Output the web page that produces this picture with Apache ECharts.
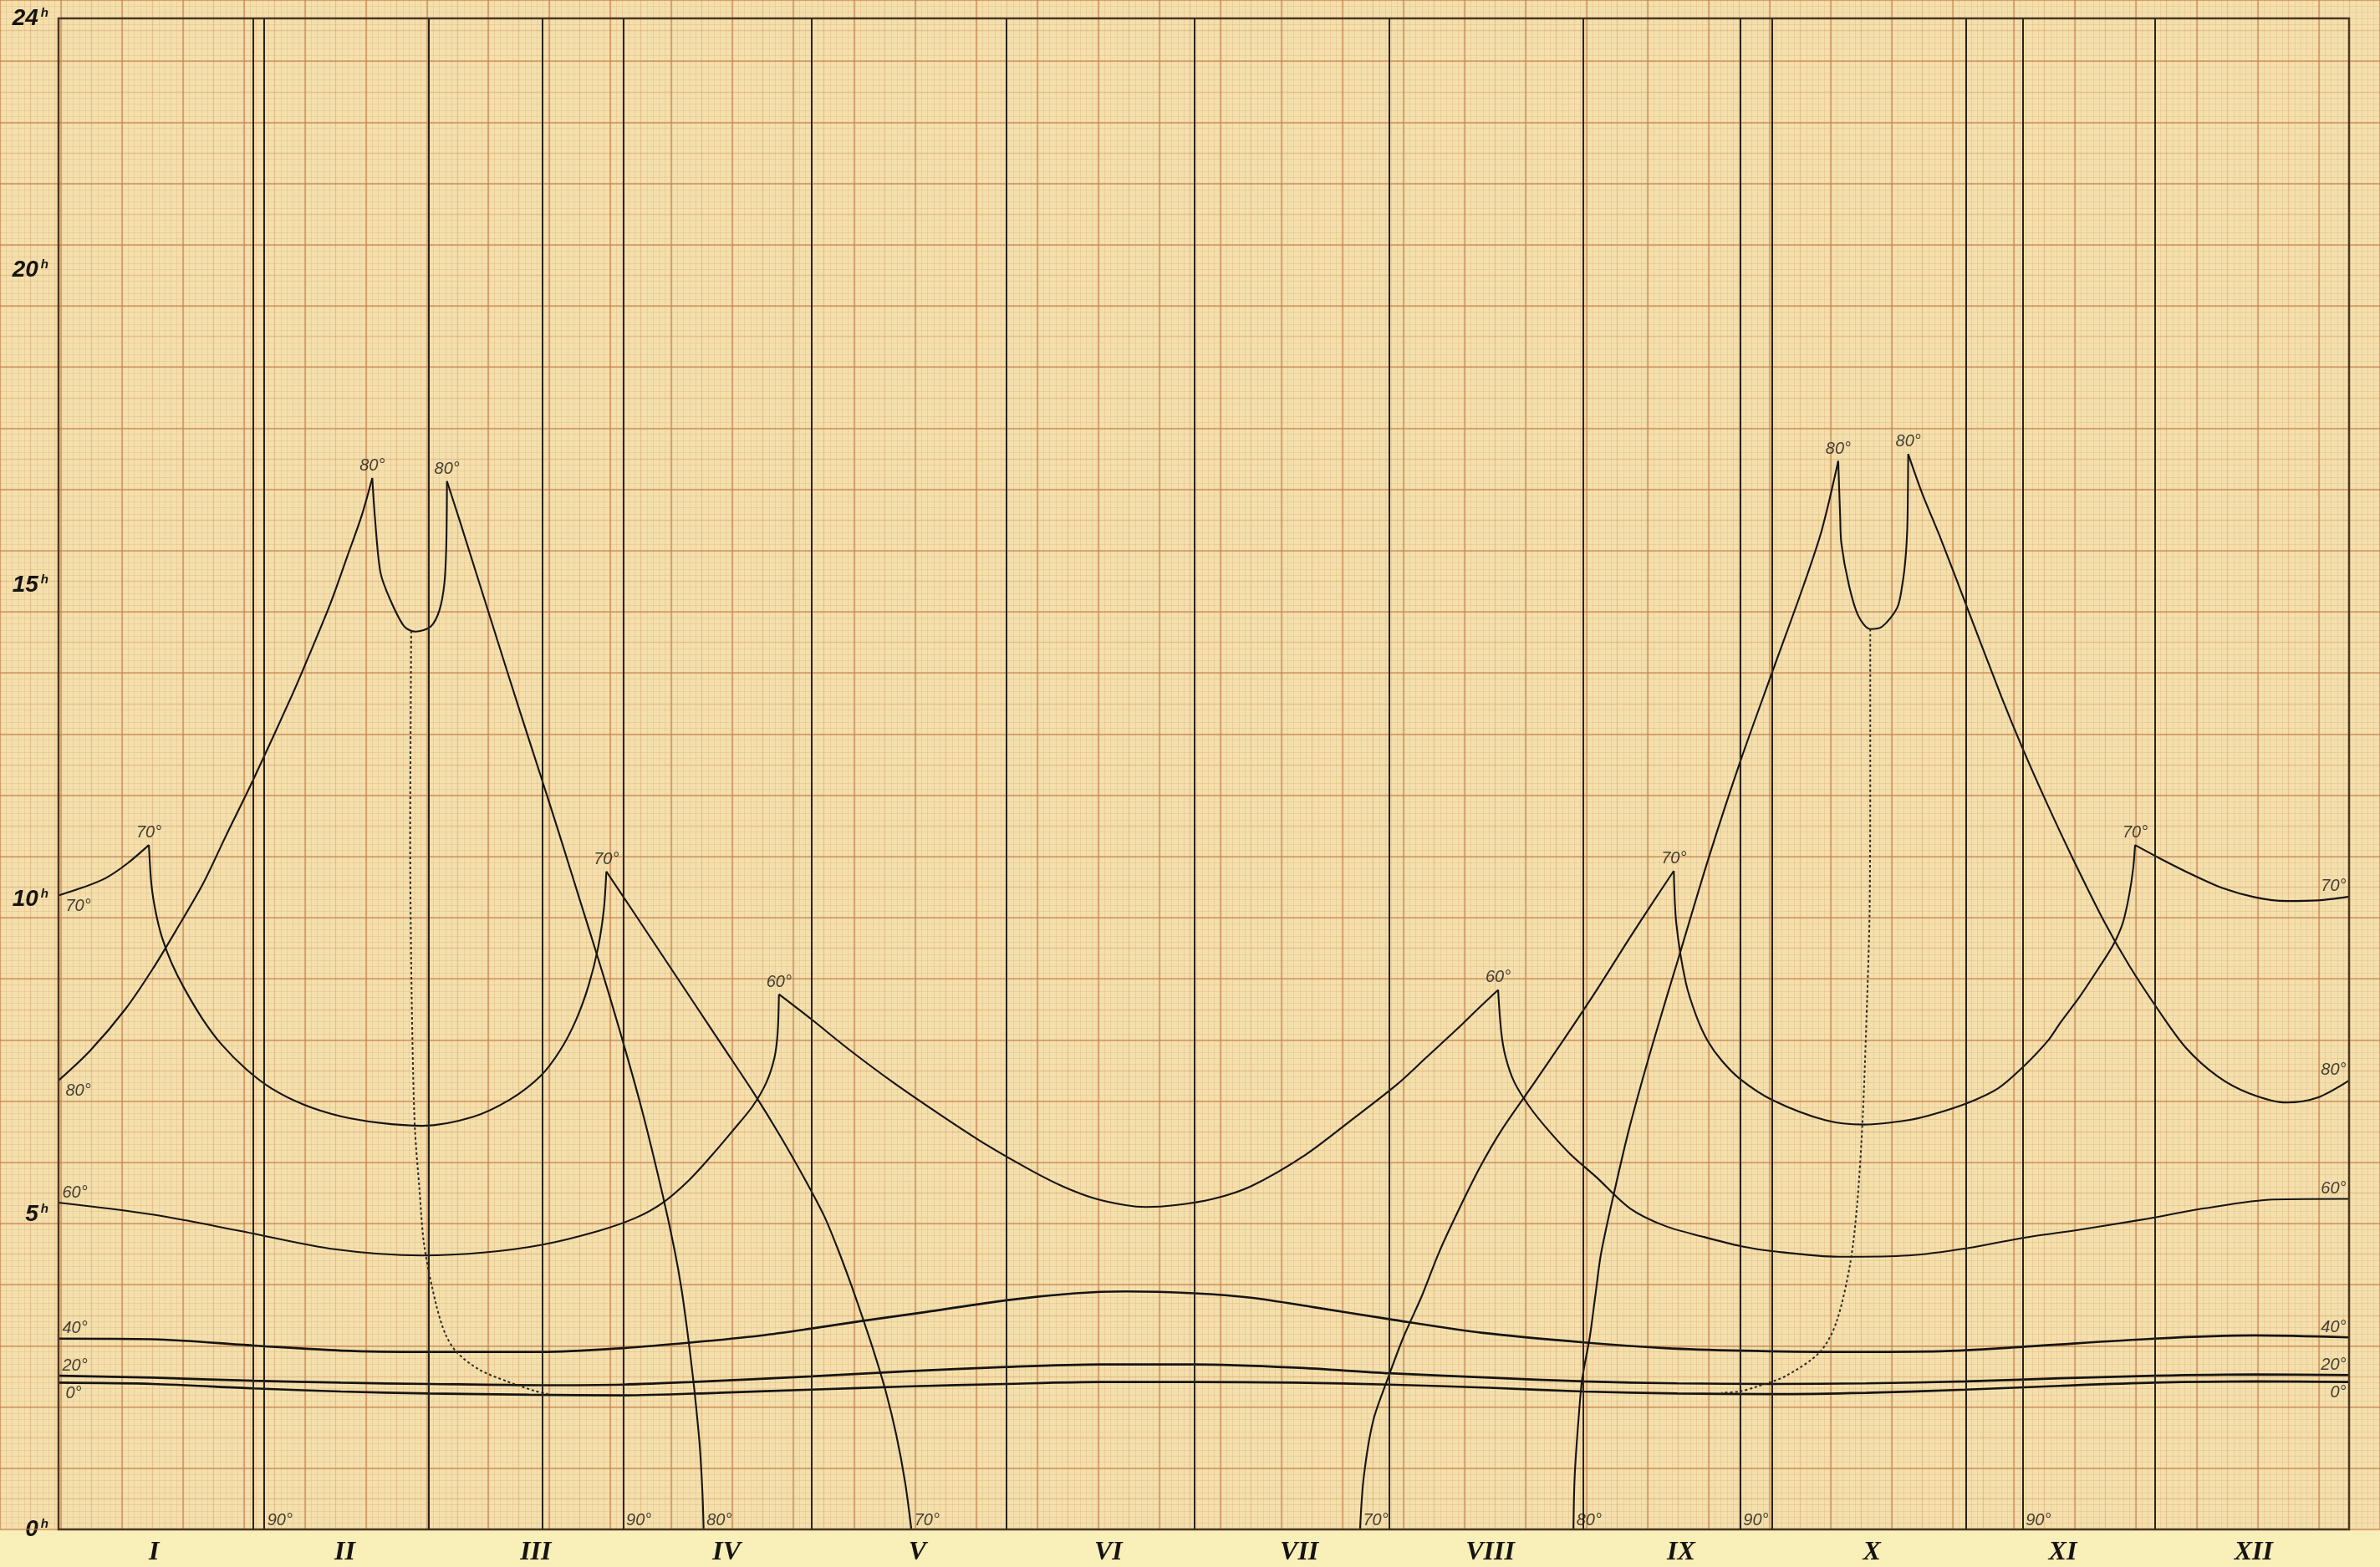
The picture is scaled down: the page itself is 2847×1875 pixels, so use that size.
<!DOCTYPE html>
<html><head><meta charset="utf-8">
<script src="https://cdn.jsdelivr.net/npm/echarts@6/dist/echarts.min.js"></script>
<style>html,body{margin:0;padding:0;background:#f8efb9;}#chart{width:2847px;height:1875px;}</style>
</head><body><div id="chart"></div>
<script>
// ---------- data (day of year, hours) ----------
const months = ['I','II','III','IV','V','VI','VII','VIII','IX','X','XI','XII'];
const hourTicks = [0,5,10,15,20,24];
const monthLines = [31,59,90,120,151,181,212,243,273,304,334];
const poleLines = [32.8,77.1,268,313];
const poleLabelDays = [32.8,90,268,313];

const lat0 = [[0,2.33],[15,2.31],[31,2.24],[45,2.19],[59,2.16],[75,2.14],[90,2.13],[105,2.17],[120,2.22],[135,2.27],[151,2.31],[166,2.34],[181,2.34],[197,2.33],[212,2.30],[228,2.25],[243,2.19],[258,2.16],[273,2.15],[288,2.17],[304,2.22],[319,2.28],[334,2.33],[350,2.35],[365,2.34]];
const lat20 = [[0,2.44],[15,2.41],[31,2.36],[45,2.33],[59,2.31],[77,2.29],[90,2.30],[101,2.34],[120,2.43],[135,2.51],[151,2.58],[166,2.62],[181,2.62],[197,2.57],[212,2.48],[228,2.41],[243,2.35],[258,2.32],[273,2.31],[288,2.32],[304,2.35],[319,2.40],[334,2.44],[350,2.46],[365,2.45]];
const lat40 = [[0,3.03],[15,3.02],[31,2.92],[45,2.84],[59,2.82],[77,2.82],[90,2.88],[101,2.97],[112,3.08],[120,3.19],[128,3.31],[138,3.45],[151,3.64],[162,3.75],[170,3.78],[181,3.75],[190,3.68],[200,3.53],[212,3.34],[227,3.12],[243,2.97],[256,2.88],[268,2.84],[284,2.82],[300,2.83],[313,2.90],[334,3.03],[350,3.08],[365,3.05]];
const lat60 = [
  [[0,5.19],[15,5.0],[29,4.74],[44,4.45],[58,4.35],[68,4.4],[77,4.52],[86,4.74],[92,4.95],[96.3,5.19],[100.5,5.55],[104,5.93],[107.5,6.34],[110.6,6.72],[112.8,7.1],[114.1,7.5],[114.6,7.9],[114.8,8.5]],
  [[114.8,8.5],[120,8.1],[126,7.62],[133,7.1],[140.6,6.58],[148,6.1],[155.2,5.69],[160,5.45],[165,5.26],[170,5.15],[173.3,5.12],[178,5.15],[184,5.25],[190,5.45],[198.7,5.95],[206,6.5],[213.2,7.06],[218,7.5],[222.9,7.95],[226,8.25],[229.4,8.57]],
  [[229.4,8.57],[229.9,7.9],[230.6,7.5],[232,7.1],[234.5,6.7],[237.4,6.34],[241,5.95],[245,5.6],[250.4,5.1],[256,4.82],[262,4.65],[268,4.5],[273,4.42],[283.7,4.33],[294.8,4.35],[304.4,4.47],[313,4.63],[322,4.76],[332,4.92],[342,5.1],[353,5.24],[365,5.25]]
];
const lat70 = [
  [[0,10.07],[4,10.2],[7.6,10.35],[11,10.58],[14.4,10.87]],
  [[14.4,10.87],[14.8,10.25],[15.5,9.8],[16.5,9.4],[18,9.0],[20,8.6],[23,8.1],[26,7.7],[30,7.3],[34,7.0],[39,6.75],[45,6.56],[51,6.46],[58,6.41],[66,6.55],[72,6.83],[76.8,7.2],[80,7.62],[82.5,8.1],[84.5,8.65],[86,9.25],[86.9,9.85],[87.3,10.45]],
  [[87.3,10.45],[92,9.75],[97,9.0],[102,8.25],[106,7.65],[110.6,6.96],[115,6.25],[119,5.55],[122,4.98],[124,4.5],[126,3.97],[128,3.4],[130,2.8],[131.8,2.2],[133.5,1.5],[134.9,0.75],[135.9,0]],
  [[207.4,0],[208,0.84],[209.5,1.73],[211.8,2.39],[214.3,3.05],[217.3,3.72],[219.9,4.38],[223,5.05],[226.5,5.75],[230,6.35],[235,7.07],[240,7.8],[245,8.55],[250.4,9.4],[254,9.95],[257.4,10.46]],
  [[257.4,10.46],[257.8,9.62],[259.3,8.69],[261,8.15],[262.8,7.76],[265,7.45],[268,7.15],[273.1,6.82],[281.5,6.5],[287.7,6.43],[294.8,6.5],[299,6.6],[304.4,6.78],[309,7.0],[313,7.34],[317,7.76],[319,8.05],[322,8.45],[325,8.9],[327.5,9.3],[329,9.65],[330,10.1],[330.6,10.5],[330.9,10.87]],
  [[330.9,10.87],[335,10.65],[340,10.4],[345,10.18],[350,10.04],[355,9.98],[360,9.99],[365,10.05]]
];
const lat80 = [
  [[0,7.13],[5,7.6],[10.7,8.27],[15,8.9],[19,9.56],[23,10.25],[26.6,11.0],[31,11.9],[37.3,13.27],[40,13.9],[43.3,14.7],[46,15.45],[48.3,16.1],[50,16.7]],
  [[50,16.7],[50.4,16.1],[51.3,15.2],[52.8,14.78],[55.1,14.34],[56.9,14.26],[59.3,14.34],[60.7,14.6],[61.5,15.04],[61.8,15.66],[61.9,16.65]],
  [[61.9,16.65],[64,16.0],[67,15.05],[70,14.1],[73.5,13.0],[76.8,11.98],[80,10.98],[83,10.02],[86.2,9.0],[89.5,7.9],[93,6.65],[96.3,5.3],[98.2,4.42],[99.3,3.8],[100.2,3.15],[101,2.5],[101.6,1.95],[102.2,1.3],[102.6,0.6],[102.8,0]],
  [[241.4,0],[241.6,0.84],[242.2,1.73],[242.8,2.39],[244,3.05],[244.9,3.72],[245.8,4.38],[248,5.4],[250.4,6.41],[254,7.7],[258.4,9.16],[263,10.68],[268,12.2],[273.1,13.62],[278.1,15.0],[281,15.88],[283.6,16.97]],
  [[283.6,16.97],[283.9,16.1],[284.1,15.66],[285.3,15.0],[286.8,14.51],[288.7,14.3],[290.6,14.34],[293,14.64],[293.8,15.0],[294.3,15.4],[294.6,15.9],[294.7,16.5],[294.75,17.08]],
  [[294.75,17.08],[297,16.45],[300,15.72],[304.3,14.6],[309.7,13.2],[313,12.4],[317,11.5],[321,10.65],[326,9.65],[330,8.95],[334.6,8.25],[339,7.65],[344,7.2],[349,6.93],[355,6.78],[360,6.86],[365,7.13]]
];
const lat90 = [
  [[56.2,14.27],[56.1,12.5],[56.04,11.0],[56.2,9.0],[56.5,7.27],[56.8,6.35],[57.5,5.42],[58.3,4.49],[60.2,3.56],[61.7,3.09],[63.5,2.81],[67,2.54],[71.5,2.35],[75.9,2.2],[78,2.15]],
  [[288.7,14.3],[288.7,12.0],[288.6,9.81],[288.2,8.42],[287.5,6.54],[286.6,5.15],[285.5,4.22],[283.3,3.29],[280.7,2.82],[275.3,2.44],[270.4,2.26],[267.8,2.19],[265,2.17]]
];

// ---------- build ----------
const INK = '#161412';
const curves = [
  {name:'0°', segs:[lat0], width:2.7},
  {name:'20°', segs:[lat20], width:2.7},
  {name:'40°', segs:[lat40], width:2.7},
  {name:'60°', segs:lat60, width:2.1},
  {name:'70°', segs:lat70, width:2.1},
  {name:'80°', segs:lat80, width:2.1}
];
const leftBelow = ['0°','70°','80°'];
const rightBelow = ['0°'];

const series = [];
curves.forEach(c => {
  c.segs.forEach(seg => series.push({
    type:'line', xAxisIndex:0, yAxisIndex:0, data:seg, showSymbol:false, smooth:0.3,
    silent:true, z:4, lineStyle:{color:INK, width:c.width}
  }));
});
lat90.forEach(seg => series.push({
  type:'line', xAxisIndex:0, yAxisIndex:0, data:seg, showSymbol:false, smooth:0.3,
  silent:true, z:4, lineStyle:{color:'#2b2822', width:2, type:[3,3]}
}));

// vertical ruled lines
series.push({
  type:'line', xAxisIndex:0, yAxisIndex:0, data:[], silent:true, z:3,
  markLine:{silent:true, symbol:['none','none'], label:{show:false},
    lineStyle:{color:'#28231c', width:2, type:'solid'},
    data: monthLines.concat(poleLines).map(d => ({xAxis:d}))}
});

// annotations
const cusp = [], base = [], lA = [], lB = [], rA = [], rB = [];
curves.forEach(c => {
  const s = c.segs;
  for (let i = 0; i < s.length - 1; i++) {
    const a = s[i][s[i].length-1], b = s[i+1][0];
    if (a[0] === b[0] && a[1] === b[1]) cusp.push([a[0], a[1], c.name]);
  }
  s.forEach(seg => {
    const p0 = seg[0], p1 = seg[seg.length-1];
    if (p0[1] === 0) base.push([p0[0], 0, c.name]);
    if (p1[1] === 0) base.push([p1[0], 0, c.name]);
  });
  const f = s[0][0], l = s[s.length-1][s[s.length-1].length-1];
  (leftBelow.includes(c.name) ? lB : lA).push([f[0], f[1], c.name]);
  (rightBelow.includes(c.name) ? rB : rA).push([l[0], l[1], c.name]);
});
poleLabelDays.forEach(d => base.push([d, 0, '90°']));

const txt = {show:true, formatter:p => p.value[2], fontFamily:'Liberation Sans', fontStyle:'italic',
  fontSize:20, color:INK};
function notes(data, extra) {
  return {type:'scatter', xAxisIndex:0, yAxisIndex:0, data, symbolSize:1, silent:true, z:6,
    itemStyle:{color:'rgba(0,0,0,0)'}, label:Object.assign({}, txt, extra)};
}
series.push(notes(cusp, {position:'top', distance:4}));
series.push(notes(base, {position:'right', distance:3, offset:[0,-11]}));
series.push(notes(lA, {position:'right', distance:4, offset:[0,-12]}));
series.push(notes(lB, {position:'right', distance:4, offset:[4,13]}));
series.push(notes(rA, {position:'left', distance:3, offset:[0,-12]}));
series.push(notes(rB, {position:'left', distance:3, offset:[0,13]}));

const fine = 'rgba(212,158,105,0.26)', mid = 'rgba(204,145,92,0.38)', major = 'rgba(198,132,80,0.55)';
const hidden = {axisLabel:{show:false}, axisTick:{show:false}, axisLine:{show:false}, silent:true};

const option = {
  backgroundColor:'#f8efb9',
  animation:false,
  grid:[
    {left:-5.07, right:-75.6, top:-53.3, bottom:45, show:true, backgroundColor:'#f4e0ad', borderWidth:0, z:0},
    {left:70, right:37, top:22, bottom:45, show:true, backgroundColor:'rgba(0,0,0,0)', borderColor:'#4b3620', borderWidth:2.5, z:5}
  ],
  xAxis:[
    {gridIndex:1, type:'value', min:0, max:365, show:false},
    {gridIndex:1, type:'category', data:months, position:'bottom', boundaryGap:true,
      axisLine:{show:false}, axisTick:{show:false}, splitLine:{show:false},
      axisLabel:{margin:12, fontFamily:'Liberation Serif', fontStyle:'italic', fontWeight:'bold', fontSize:32, color:INK}},
    Object.assign({gridIndex:0, type:'value', min:-10, max:380, interval:5, z:0,
      splitLine:{show:true, lineStyle:{color:mid, width:1.3}},
      minorTick:{show:false, splitNumber:5}, minorSplitLine:{show:true, lineStyle:{color:fine, width:1}}}, hidden),
    Object.assign({gridIndex:0, type:'value', min:-10, max:380, interval:10, z:1,
      splitLine:{show:true, lineStyle:{color:major, width:2.2}}}, hidden)
  ],
  yAxis:[
    {gridIndex:1, type:'value', min:0, max:24, interval:1,
      axisLine:{show:false}, axisTick:{show:false}, splitLine:{show:false},
      axisLabel:{margin:12, formatter:v => hourTicks.includes(v) ? '{n|' + v + '}{h|h}' : '',
        rich:{n:{fontFamily:'Liberation Sans', fontStyle:'italic', fontWeight:'bold', fontSize:28, color:INK},
              h:{fontFamily:'Liberation Sans', fontStyle:'italic', fontWeight:'bold', fontSize:15, color:INK, verticalAlign:'top', padding:[0,0,0,3]}}}},
    Object.assign({gridIndex:0, type:'value', min:0, max:25, interval:0.5, z:0,
      splitLine:{show:true, lineStyle:{color:mid, width:1.3}},
      minorTick:{show:false, splitNumber:5}, minorSplitLine:{show:true, lineStyle:{color:fine, width:1}}}, hidden),
    Object.assign({gridIndex:0, type:'value', min:0, max:25, interval:1, z:1,
      splitLine:{show:true, lineStyle:{color:major, width:2.2}}}, hidden)
  ],
  series
};
const chart = echarts.init(document.getElementById('chart'), null, {renderer:'canvas', width:2847, height:1875});
chart.setOption(option);
</script></body></html>
